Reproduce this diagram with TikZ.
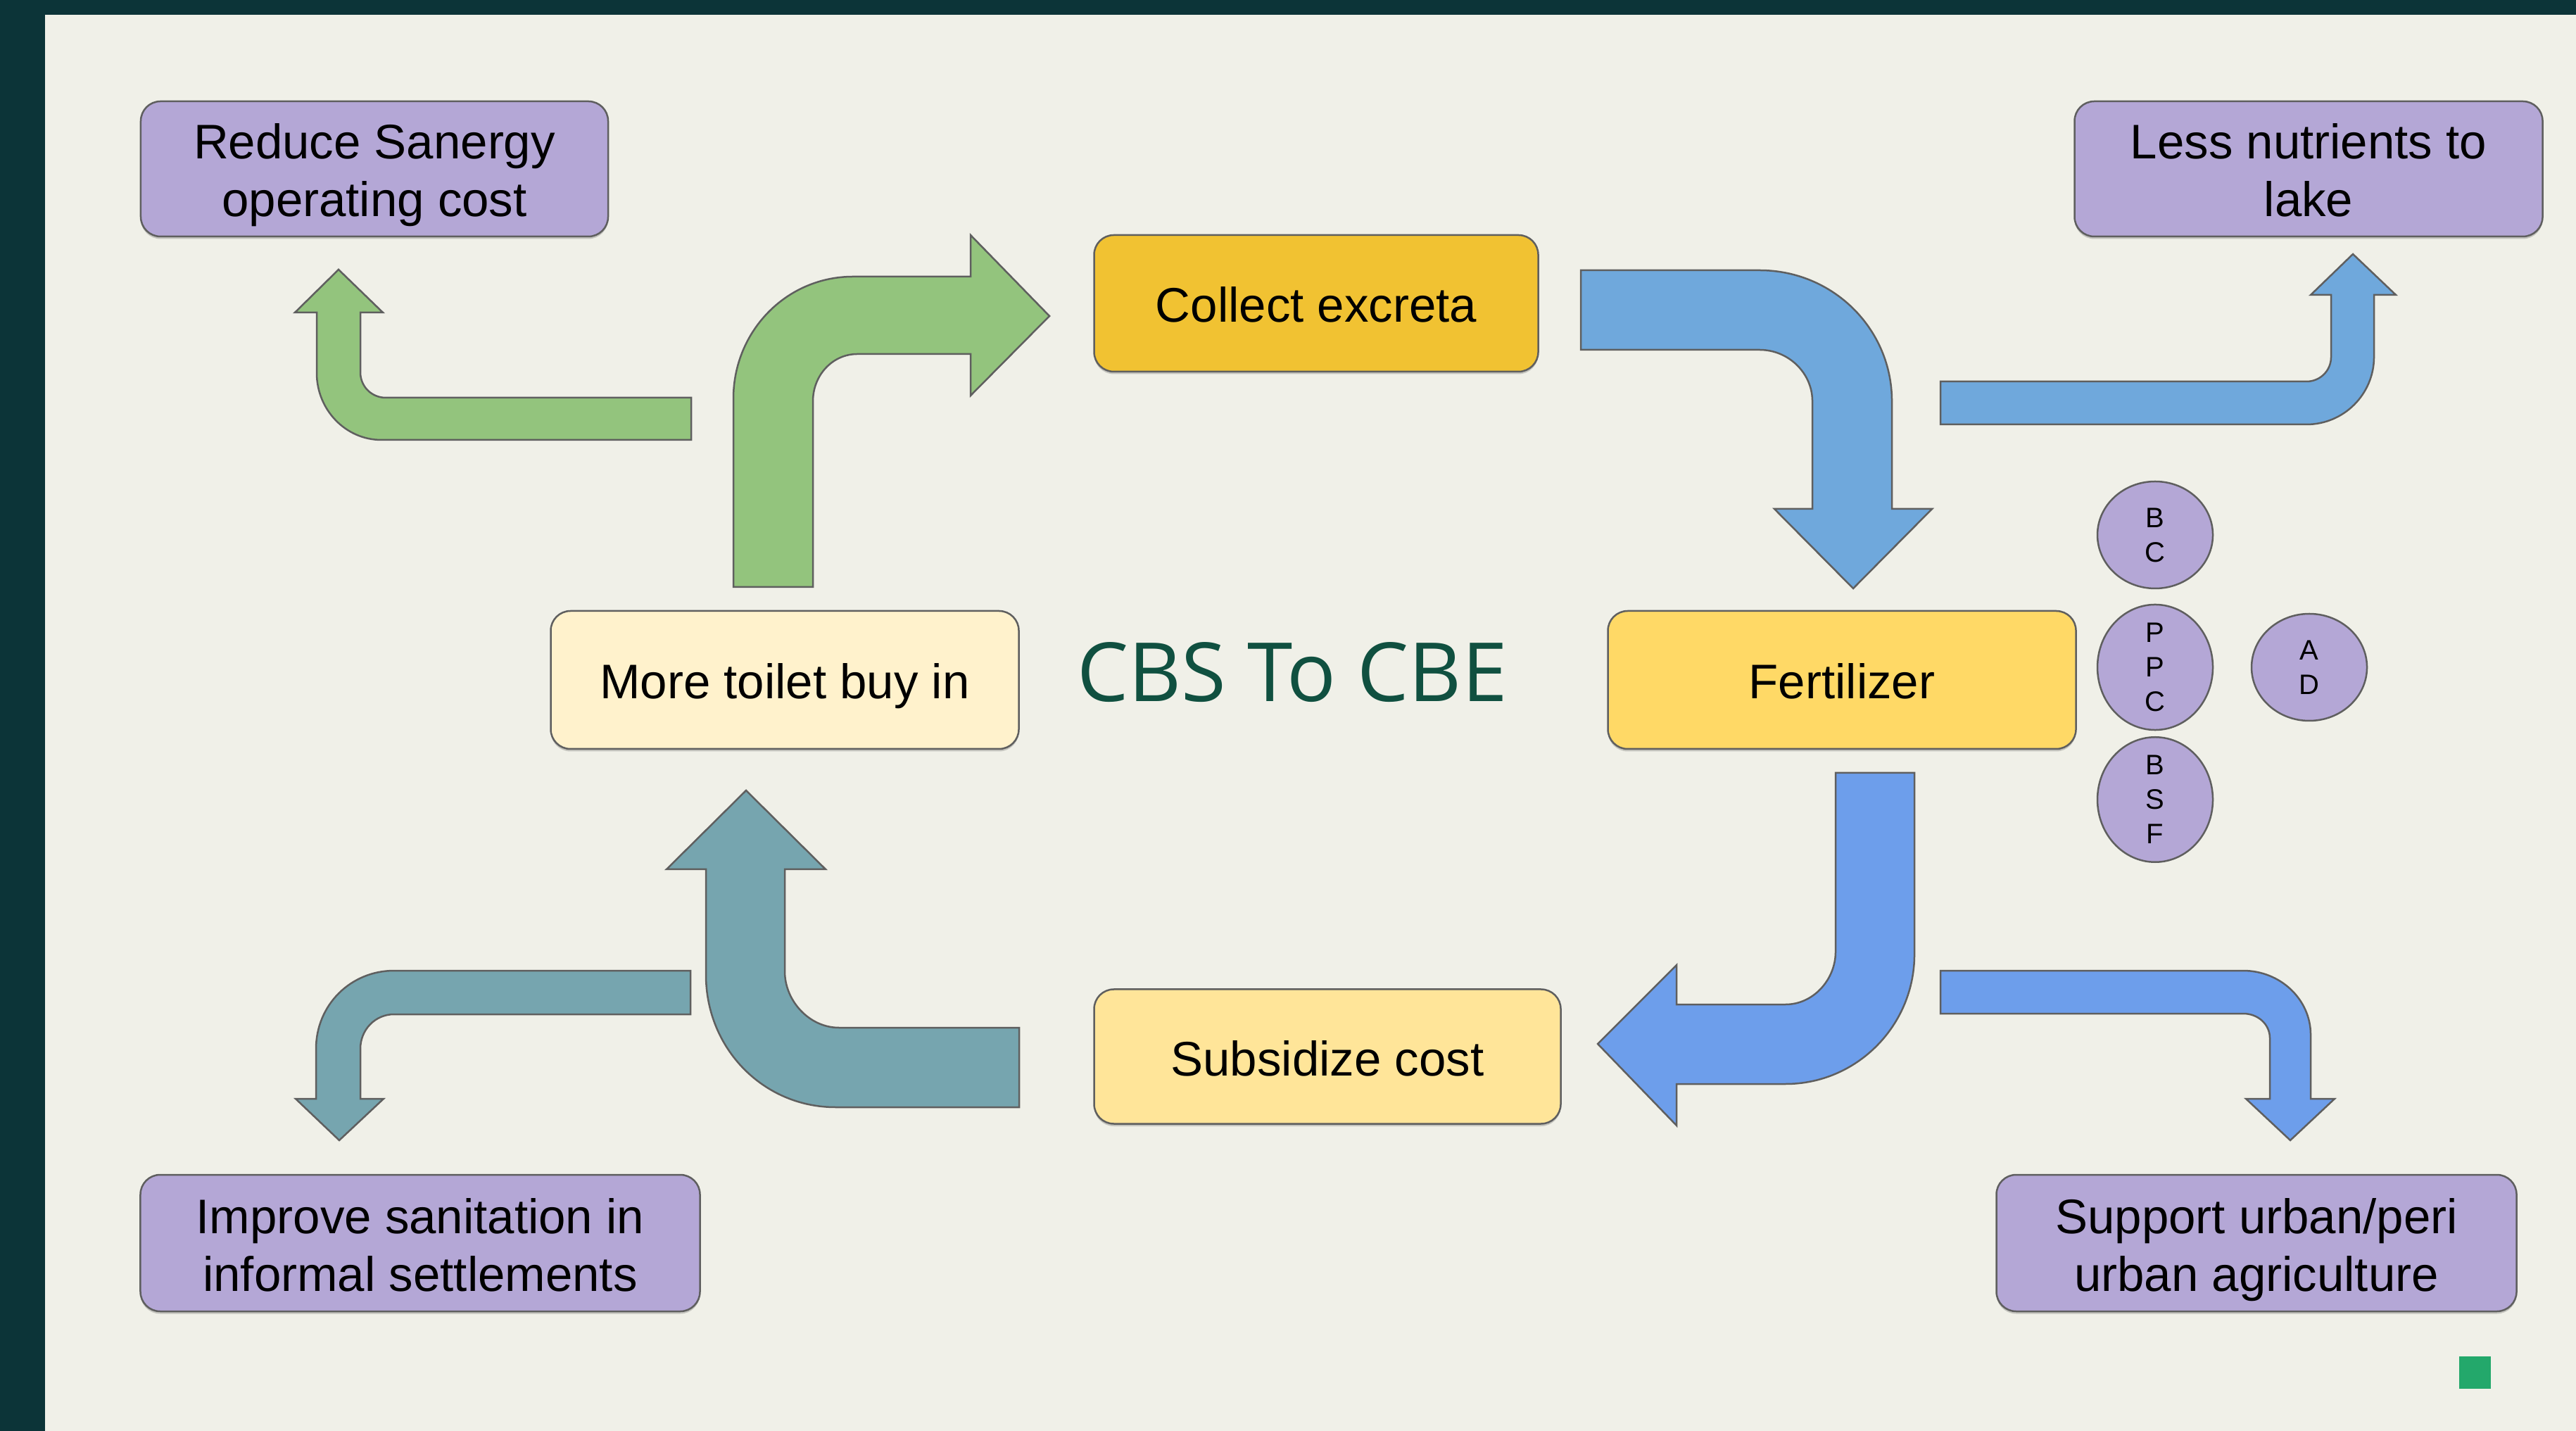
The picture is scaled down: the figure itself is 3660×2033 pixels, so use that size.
\documentclass[tikz,border=0pt]{standalone}
\usepackage{fontspec}
\setmainfont{Liberation Sans}
\newfontfamily\titlefont{Open Sans}
\usetikzlibrary{shapes.geometric,shadows}
\definecolor{bgcream}{RGB}{240,240,232}
\definecolor{framedark}{RGB}{12,52,56}
\definecolor{lilac}{RGB}{180,167,214}
\definecolor{gold}{RGB}{241,194,50}
\definecolor{paleyellow}{RGB}{255,242,204}
\definecolor{midyellow}{RGB}{255,217,102}
\definecolor{lightyellow}{RGB}{255,229,153}
\definecolor{leafgreen}{RGB}{147,196,125}
\definecolor{skyblue}{RGB}{111,168,220}
\definecolor{cornblue}{RGB}{109,158,235}
\definecolor{tealgray}{RGB}{118,165,175}
\definecolor{edgegray}{RGB}{95,95,95}
\definecolor{titlegreen}{RGB}{16,80,64}
\definecolor{markgreen}{RGB}{35,168,107}
\tikzset{
  boxnode/.style={draw=edgegray, line width=0.5pt, rounded corners=5.6pt, inner sep=0pt,
    align=center, font=\fontsize{13.8}{16.4}\selectfont,
    drop shadow={shadow xshift=0pt,shadow yshift=-0.7pt,fill=black,opacity=0.18}},
  oneline/.style={text height=10.8pt, text depth=0pt},
  twoline/.style={text height=27.2pt, text depth=0pt},
  oval/.style={draw=edgegray, line width=0.5pt, ellipse, fill=lilac, inner sep=0pt,
    minimum width=32.8pt, minimum height=30.4pt, align=center,
    font=\fontsize{8}{9.8}\selectfont},
  blockarrow/.style={draw=edgegray, line width=0.5pt, line join=miter},
}
\begin{document}
\begin{tikzpicture}[x=0.2pt,y=-0.2pt]
\useasboundingbox (0,0) rectangle (3660,2033);
\fill[framedark] (0,0) rectangle (3660,2033);
\fill[bgcream] (64,21) rectangle (3660,2033);

% boxes
\node[boxnode, twoline, fill=lilac, minimum width=132.8pt, minimum height=38.4pt] (reduce) at (532,240) {Reduce Sanergy\\operating cost};
\node[boxnode, twoline, fill=lilac, minimum width=133pt, minimum height=38.4pt] (lake) at (3280,240) {Less nutrients to\\lake};
\node[boxnode, oneline, fill=gold, minimum width=126.2pt, minimum height=38.8pt] (collect) at (1870,431) {Collect excreta};
\node[boxnode, oneline, fill=paleyellow, minimum width=133pt, minimum height=39.2pt] (toilet) at (1115,966) {More toilet buy in};
\node[boxnode, oneline, fill=midyellow, minimum width=133pt, minimum height=39.2pt] (fert) at (2617,966) {Fertilizer};
\node[boxnode, oneline, fill=lightyellow, minimum width=132.6pt, minimum height=38.2pt] (subs) at (1886,1501) {Subsidize cost};
\node[boxnode, twoline, fill=lilac, minimum width=159pt, minimum height=38.8pt] (sanit) at (597,1766) {Improve sanitation in\\informal settlements};
\node[boxnode, twoline, fill=lilac, minimum width=147.8pt, minimum height=38.8pt] (agri) at (3206,1766) {Support urban/peri\\urban agriculture};

% title
\node[font=\titlefont\fontsize{23.2}{26}\selectfont, text=titlegreen, inner sep=0pt] (title) at (1836,955) {CBS To CBE};

% ovals
\node[oval] (bc) at (3062,760) {B\\C};
\node[oval] (ppc) at (3062,948) {P\\P\\C};
\node[oval] (bsf) at (3062,1136) {B\\S\\F};
\node[oval] (ad) at (3281,948) {A\\D};

% green small arrow (to Reduce)
\draw[blockarrow, fill=leafgreen]
 (982,565) -- (548,565) .. controls (528,565) and (512,549) .. (512,529)
 -- (512,444) -- (544,444) -- (481,383) -- (419,444) -- (450,444)
 -- (450,530) .. controls (450,582) and (491,625) .. (542,625) -- (982,625) -- cycle;

% green large arrow (to Collect)
\draw[blockarrow, fill=leafgreen]
 (1042,834) -- (1042,566) .. controls (1042,471) and (1117,393) .. (1212,393)
 -- (1379,393) -- (1379,334) -- (1491,449) -- (1379,562) -- (1379,503)
 -- (1218,503) .. controls (1183,503) and (1155,533) .. (1155,570) -- (1155,834) -- cycle;

% blue large arrow (Collect -> Fertilizer)
\draw[blockarrow, fill=skyblue]
 (2246,384) -- (2500,384) .. controls (2604,384) and (2688,467) .. (2688,570)
 -- (2688,723) -- (2745,723) -- (2633,836) -- (2521,723) -- (2575,723)
 -- (2575,570) .. controls (2575,530) and (2541,497) .. (2500,497) -- (2246,497) -- cycle;

% blue small arrow (to Lake)
\draw[blockarrow, fill=skyblue]
 (2757,542) -- (3277,542) .. controls (3296,542) and (3312,527) .. (3312,507)
 -- (3312,419) -- (3283,419) -- (3343,361) -- (3404,419) -- (3373,419)
 -- (3373,507) .. controls (3373,560) and (3330,603) .. (3277,603) -- (2757,603) -- cycle;

% blue large arrow (Fertilizer -> Subsidize)
\draw[blockarrow, fill=cornblue]
 (2608,1098) -- (2720,1098) -- (2720,1356) .. controls (2720,1457) and (2638,1540) .. (2537,1540)
 -- (2382,1540) -- (2382,1599) -- (2270,1483) -- (2382,1371) -- (2382,1427)
 -- (2537,1427) .. controls (2576,1427) and (2608,1392) .. (2608,1352) -- cycle;

% blue small arrow (to Agriculture)
\draw[blockarrow, fill=cornblue]
 (2757,1379) -- (3187,1379) .. controls (3240,1379) and (3283,1420) .. (3283,1470)
 -- (3283,1561) -- (3317,1561) -- (3254,1620) -- (3191,1561) -- (3225,1561)
 -- (3225,1475) .. controls (3225,1455) and (3208,1440) .. (3187,1440) -- (2757,1440) -- cycle;

% teal large arrow (Subsidize -> More toilet)
\draw[blockarrow, fill=tealgray]
 (1448,1460) -- (1192,1460) .. controls (1150,1460) and (1115,1422) .. (1115,1380)
 -- (1115,1235) -- (1173,1235) -- (1060,1123) -- (947,1235) -- (1003,1235)
 -- (1003,1385) .. controls (1003,1490) and (1085,1573) .. (1187,1573) -- (1448,1573) -- cycle;

% teal small arrow (to Sanitation)
\draw[blockarrow, fill=tealgray]
 (981,1379) -- (560,1379) .. controls (498,1379) and (449,1428) .. (449,1490)
 -- (449,1561) -- (420,1561) -- (482,1620) -- (545,1561) -- (512,1561)
 -- (512,1490) .. controls (512,1463) and (533,1441) .. (560,1441) -- (981,1441) -- cycle;

% small green mark
\fill[markgreen] (3494,1927) rectangle (3539,1973);
\end{tikzpicture}
\end{document}
